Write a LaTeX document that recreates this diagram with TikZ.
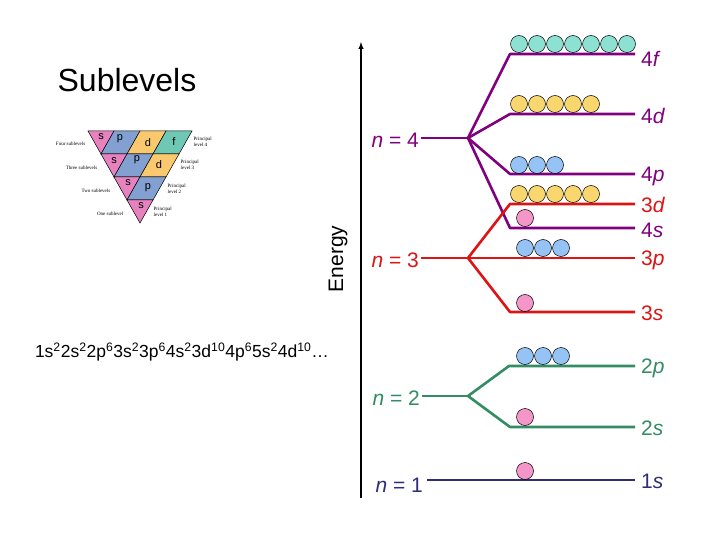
\documentclass[tikz,border=0pt]{standalone}
\usepackage{fontspec}
\setmainfont{Liberation Sans}
\newfontfamily\serifsmall{Liberation Serif}
\begin{document}
\begin{tikzpicture}[x=1pt,y=-1pt]
\definecolor{cpur}{RGB}{128,0,128}
\definecolor{cred}{RGB}{220,20,20}
\definecolor{cgrn}{RGB}{50,140,100}
\definecolor{cnav}{RGB}{45,45,120}
\definecolor{cpink}{RGB}{245,150,200}
\definecolor{cblue}{RGB}{150,195,245}
\definecolor{cyel}{RGB}{250,215,110}
\definecolor{cteal}{RGB}{140,225,210}
\definecolor{tpink}{RGB}{230,130,190}
\definecolor{tblue}{RGB}{130,160,210}
\definecolor{tor}{RGB}{250,200,110}
\definecolor{tteal}{RGB}{110,200,180}
\tikzset{lvl/.style={line width=2.6pt},
  orb/.style={circle,draw=black,line width=0.5pt,minimum size=17pt,inner sep=0pt},
  lab/.style={font=\fontsize{21}{21}\selectfont,inner sep=1pt},
  tiny/.style={font=\serifsmall\fontsize{5}{5.5}\selectfont,inner sep=0.5pt,align=left},
  cell/.style={font=\fontsize{11}{11}\selectfont}}
\useasboundingbox (0,0) rectangle (720,540);
% title
\node[font=\fontsize{32}{32}\selectfont] (title) at (127,80) {Sublevels};
% triangle
\foreach \k/\cols in {4/{tpink,tblue,tor,tteal},3/{tpink,tblue,tor},2/{tpink,tblue},1/{tpink}}{
  \pgfmathsetmacro{\yb}{223-23*(\k-1)}
  \pgfmathsetmacro{\yt}{223-23*\k}
  \pgfmathsetmacro{\xlb}{140-13*(\k-1)}
  \pgfmathsetmacro{\xlt}{140-13*\k}
  \foreach \c [count=\j from 0] in \cols {
    \ifnum\j=0
      \fill[\c,draw=black,line width=0.5pt] (\xlt,\yt) -- (\xlt+26,\yt) -- (\xlb,\yb) -- cycle;
    \else
      \fill[\c,draw=black,line width=0.5pt] (\xlb+26*\j-26,\yb) -- (\xlb+26*\j,\yb) -- (\xlb+26*\j+13,\yt) -- (\xlb+26*\j-13,\yt) -- cycle;
    \fi
  }
}
\node[cell] (s4) at (101,137) {s};
\node[cell] (p4) at (120,139) {p};
\node[cell] (d4) at (148,143) {d};
\node[cell] (f4) at (174,142) {f};
\node[cell] (s3) at (114,161) {s};
\node[cell] (p3) at (137,160) {p};
\node[cell] (d3) at (159,165) {d};
\node[cell] (s2) at (128,183) {s};
\node[cell] (p2) at (148,188) {p};
\node[cell] (s1) at (141,206) {s};
\node[tiny,anchor=east] (l4) at (86,144) {Four sublevels};
\node[tiny,anchor=east] (l3) at (98,168) {Three sublevels};
\node[tiny,anchor=east] (l2) at (111,191) {Two sublevels};
\node[tiny,anchor=east] (l1) at (124,214) {One sublevel};
\node[tiny,anchor=west] (r4) at (193,142) {Principal\\level 4};
\node[tiny,anchor=west] (r3) at (180,165) {Principal\\level 3};
\node[tiny,anchor=west] (r2) at (167,189) {Principal\\level 2};
\node[tiny,anchor=west] (r1) at (153,212) {Principal\\level 1};
% config
\node[font=\fontsize{17.5}{17.5}\selectfont] (conf) at (182,352) {1s\textsuperscript{2}2s\textsuperscript{2}2p\textsuperscript{6}3s\textsuperscript{2}3p\textsuperscript{6}4s\textsuperscript{2}3d\textsuperscript{10}4p\textsuperscript{6}5s\textsuperscript{2}4d\textsuperscript{10}\ldots};
% axis
\coordinate (ab) at (361,498);
\coordinate (at) at (361,42);
\draw[line width=1.4pt,-latex] (ab) -- (at);
\node[rotate=90,font=\fontsize{21}{21}\selectfont] (energy) at (338,259) {Energy};
% n=4
\coordinate (n4a) at (421,138); \coordinate (n4b) at (468,138);
\foreach \nm/\y in {f/54,d/114,p/174,s/228}{
  \coordinate (a4\nm) at (510,\y); \coordinate (b4\nm) at (635,\y);}
\draw[lvl,cpur] (n4a) -- (n4b);
\foreach \nm in {f,d,p,s}{\draw[lvl,cpur,line join=round] (n4b) -- (a4\nm) -- (b4\nm);}
% n=3
\coordinate (n3a) at (421,258); \coordinate (n3b) at (468,258);
\coordinate (a3d) at (510,204); \coordinate (b3d) at (635,204);
\coordinate (b3p) at (635,258);
\coordinate (a3s) at (510,312); \coordinate (b3s) at (635,312);
\draw[lvl,cred] (n3a) -- (b3p);
\draw[lvl,cred,line join=round] (n3b) -- (a3d) -- (b3d);
\draw[lvl,cred,line join=round] (n3b) -- (a3s) -- (b3s);
% n=2
\coordinate (n2a) at (422,396); \coordinate (n2b) at (468,396);
\coordinate (a2p) at (509,366); \coordinate (b2p) at (635,366);
\coordinate (a2s) at (510,427); \coordinate (b2s) at (635,427);
\draw[lvl,cgrn] (n2a) -- (n2b);
\draw[lvl,cgrn,line join=round] (n2b) -- (a2p) -- (b2p);
\draw[lvl,cgrn,line join=round] (n2b) -- (a2s) -- (b2s);
% n=1
\coordinate (n1a) at (427,480); \coordinate (b1s) at (635,480);
\draw[lvl,cnav] (n1a) -- (b1s);
% n labels
\node[lab,cpur,anchor=east] (tn4) at (420,140) {\textit{n} = 4};
\node[lab,cred,anchor=east] (tn3) at (420,260) {\textit{n} = 3};
\node[lab,cgrn,anchor=east] (tn2) at (421,398) {\textit{n} = 2};
\node[lab,cnav,anchor=east] (tn1) at (424,485) {\textit{n} = 1};
% sublevel labels
\node[lab,cpur,anchor=west] (t4f) at (640,59) {4\textit{f}};
\node[lab,cpur,anchor=west] (t4d) at (640,116) {4\textit{d}};
\node[lab,cpur,anchor=west] (t4p) at (640,176) {4\textit{p}};
\node[lab,cred,anchor=west] (t3d) at (640,205) {3\textit{d}};
\node[lab,cpur,anchor=west] (t4s) at (640,230) {4\textit{s}};
\node[lab,cred,anchor=west] (t3p) at (640,260) {3\textit{p}};
\node[lab,cred,anchor=west] (t3s) at (640,313) {3\textit{s}};
\node[lab,cgrn,anchor=west] (t2p) at (640,368) {2\textit{p}};
\node[lab,cgrn,anchor=west] (t2s) at (640,428) {2\textit{s}};
\node[lab,cnav,anchor=west] (t1s) at (640,481) {1\textit{s}};
% orbitals
\foreach \i in {0,...,6}{\node[orb,fill=cteal] (f\i) at (519+18*\i,44) {};}
\foreach \i in {0,...,4}{\node[orb,fill=cyel] (d4\i) at (519+18*\i,104) {};}
\foreach \i in {0,...,2}{\node[orb,fill=cblue] (p4\i) at (519+18*\i,165) {};}
\foreach \i in {0,...,4}{\node[orb,fill=cyel] (d3\i) at (519+18*\i,194) {};}
\node[orb,fill=cpink] (s4o) at (525,218) {};
\foreach \i in {0,...,2}{\node[orb,fill=cblue] (p3\i) at (525+18*\i,248) {};}
\node[orb,fill=cpink] (s3o) at (525,303) {};
\foreach \i in {0,...,2}{\node[orb,fill=cblue] (p2\i) at (525+18*\i,356) {};}
\node[orb,fill=cpink] (s2o) at (525,417) {};
\node[orb,fill=cpink] (s1o) at (525,471) {};
\end{tikzpicture}
\end{document}
